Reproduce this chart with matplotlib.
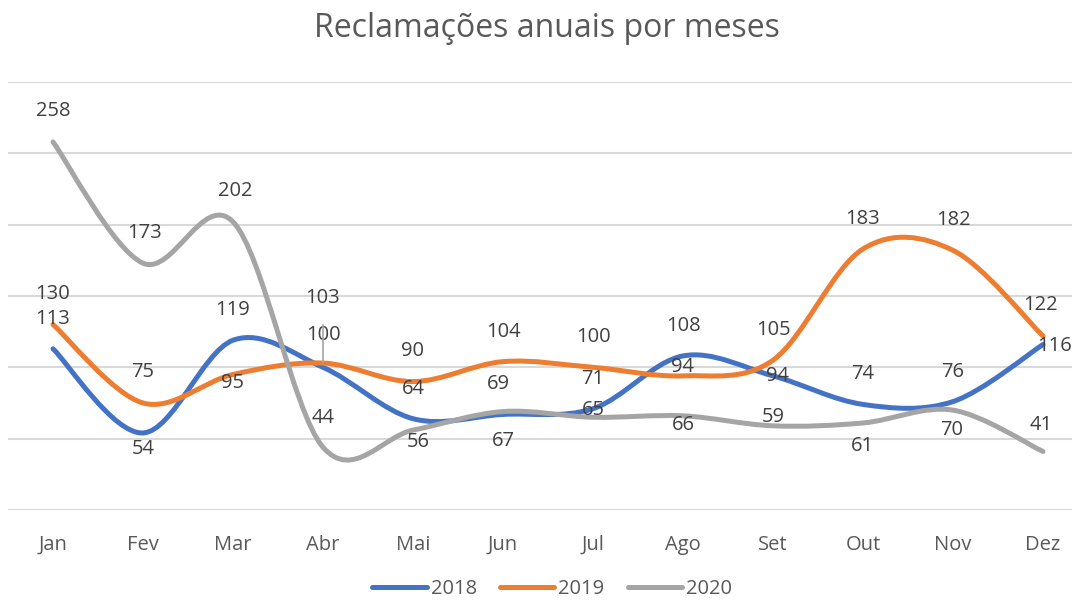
import matplotlib
matplotlib.use("Agg")
import matplotlib.pyplot as plt
from matplotlib.path import Path
from matplotlib.patches import PathPatch
from matplotlib.lines import Line2D
import numpy as np

months = ["Jan", "Fev", "Mar", "Abr", "Mai", "Jun", "Jul", "Ago", "Set", "Out", "Nov", "Dez"]
s2018 = [113, 54, 119, 100, 64, 67, 71, 108, 94, 74, 76, 116]
s2019 = [130, 75, 95, 103, 90, 104, 100, 94, 105, 183, 182, 122]
s2020 = [258, 173, 202, 44, 56, 69, 65, 66, 59, 61, 70, 41]
series_names = ["2018", "2019", "2020"]

colors = ["#4472C4", "#ED7D31", "#A5A5A5"]
text_color = "#595959"
label_color = "#404040"
FONT = ["Open Sans", "DejaVu Sans"]

# label offsets in pixels (dx, dy; positive dy = up)
off2018 = [(0, 30), (0, -16), (0, 30), (0, 32), (0, 30), (0, -27), (0, 30), (0, 30), (5, 0), (0, 30), (0, 30), (12, -1)]
off2019 = [(0, 31), (0, 31), (0, -9), (0, 65), (0, 31), (0, 30), (0, 30), (0, 9), (0, 30), (0, 30), (0, 30), (-3, 31)]
off2020 = [(0, 31), (2, 30), (2, 31), (0, 29), (5, -12), (-5, 28), (0, 7), (0, -9), (0, 9), (-1, -23), (-1, -20), (-2, 27)]

fig = plt.figure(figsize=(10.72, 6.02), dpi=100)
ax = fig.add_axes([8 / 1072, 92 / 602, 1080 / 1072, 428 / 602])
ax.set_xlim(-0.5, 11.5)
ax.set_ylim(0, 300)


def smooth_path(xs, ys):
    pts = np.column_stack([xs, ys]).astype(float)
    n = len(pts)
    verts = [tuple(pts[0])]
    codes = [Path.MOVETO]
    for i in range(n - 1):
        p0 = pts[i - 1] if i > 0 else pts[i]
        p1 = pts[i]
        p2 = pts[i + 1]
        p3 = pts[i + 2] if i + 2 < n else pts[i + 1]
        c1 = p1 + (p2 - p0) / 6.0
        c2 = p2 - (p3 - p1) / 6.0
        verts += [tuple(c1), tuple(c2), tuple(p2)]
        codes += [Path.CURVE4] * 3
    return Path(verts, codes)


x = np.arange(len(months))
all_series = [s2018, s2019, s2020]
all_offsets = [off2018, off2019, off2020]

for k in range(3):
    p = smooth_path(x, all_series[k])
    patch = PathPatch(p, facecolor="none", edgecolor=colors[k], lw=3.6,
                      capstyle="round", joinstyle="round", zorder=3)
    ax.add_patch(patch)

for k in range(3):
    for i, v in enumerate(all_series[k]):
        dx, dy = all_offsets[k][i]
        if k == 1 and i == 3:
            ax.annotate(str(v), xy=(i, v), xytext=(dx, dy), textcoords="offset pixels",
                        ha="center", va="center", fontsize=14.5, color=label_color, family=FONT,
                        arrowprops=dict(arrowstyle="-", color="#A5A5A5", lw=1.2,
                                        shrinkA=10, shrinkB=0), zorder=6)
        else:
            ax.annotate(str(v), xy=(i, v), xytext=(dx, dy), textcoords="offset pixels",
                        ha="center", va="center", fontsize=14.5, color=label_color, family=FONT,
                        zorder=6)

ax.set_yticks(np.arange(0, 301, 50))
ax.set_yticklabels([])
ax.set_xticks(x)
ax.set_xticklabels(months, fontsize=14.5, color=text_color, family=FONT)
ax.tick_params(axis="both", length=0)
ax.tick_params(axis="x", pad=18)
ax.grid(axis="y", color="#D9D9D9", lw=1.5)
ax.set_axisbelow(True)
for sp in ax.spines.values():
    sp.set_visible(False)

fig.text(0.51, 0.952, "Reclamações anuais por meses", ha="center", va="center",
         fontsize=23, color=text_color, family=FONT)

handles = [Line2D([0], [0], color=c, lw=3.6, solid_capstyle="round") for c in colors]
leg = fig.legend(handles, series_names, loc="center", bbox_to_anchor=(0.515, 0.022),
                 ncol=3, frameon=False, handlelength=2.7, handletextpad=0.2,
                 columnspacing=1.15, borderpad=0.1, prop={"family": FONT, "size": 14.5})
for t in leg.get_texts():
    t.set_color(text_color)

fig.savefig("out.png", dpi=100)
